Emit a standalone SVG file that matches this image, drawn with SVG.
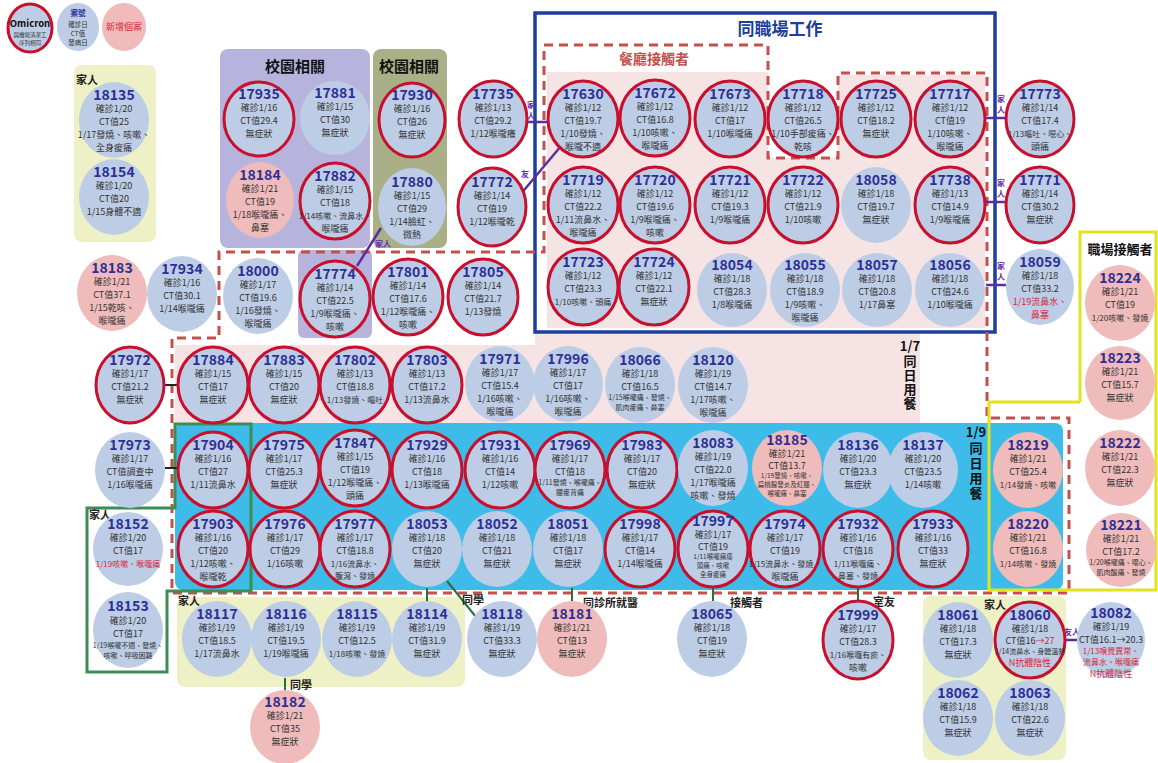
<svg xmlns="http://www.w3.org/2000/svg" width="1158" height="763" viewBox="0 0 1158 763">
<style>
text{font-family:"Noto Sans CJK TC","Noto Sans",sans-serif}
.b{fill:#bdcde6}
.p{fill:#f0bbbb}
.rg{fill:#bdcde6;stroke:#c8102e;stroke-width:3}
.n{font-size:14px;font-weight:700;fill:#2e2f96;text-anchor:middle}
.t{font-size:9px;fill:#333;text-anchor:middle}
.m{font-size:8px}
.s{font-size:7px}
.xs{font-size:6.5px}
.rd{fill:#d9263a}
.ttl{font-weight:700;fill:#111;text-anchor:middle}
.lb{font-size:11px;font-weight:700;fill:#222}
.pl{font-size:8px;font-weight:700;fill:#6a2fb0;text-anchor:middle}
.pv{font-size:8px;font-weight:700;fill:#6a2fb0;writing-mode:vertical-rl;letter-spacing:3px}
.v{font-size:13px;font-weight:700;fill:#111;text-anchor:middle}
.vv{font-size:13px;font-weight:700;fill:#111;writing-mode:vertical-rl}
.dash{fill:none;stroke:#c4504d;stroke-width:3;stroke-dasharray:9 6}
.cp{stroke:#5b2d9e;stroke-width:2.5}
.cg{stroke:#2f6e3a;stroke-width:2}
.ck{stroke:#222;stroke-width:2}
</style>
<rect width="1158" height="763" fill="#fff"/>
<g id="backgrounds">
<rect x="74" y="65" width="82" height="177" rx="8" fill="#eef0c6"/>
<rect x="220" y="49" width="150" height="199" rx="8" fill="#b6b3dd"/>
<rect x="298" y="250" width="74" height="88" rx="6" fill="#b6b3dd"/>
<rect x="373" y="49" width="74" height="199" rx="8" fill="#a9b087"/>
<path d="M547,72 H768 V158 H838 V75 H985 V328 H547 Z" fill="#f6e4e4"/>
<path d="M175,345 H535 V332 H920 V423 H175 Z" fill="#f6e4e4"/>
<rect x="175" y="423" width="888" height="167" rx="8" fill="#3dbce9"/>
<rect x="177" y="597" width="288" height="90" rx="8" fill="#eef0c6"/>
<rect x="923" y="596" width="143" height="164" rx="8" fill="#eef0c6"/>
</g>
<g id="frames">
<rect x="535" y="13" width="460" height="319" fill="none" stroke="#1d3f99" stroke-width="3.5"/>
<path class="dash" d="M544,45 H768 V158 H838 V73 H987 V418 H1069 V593 H172 V338 H219 V252 H544 Z"/>
<path d="M1080,402 V232 H1156 V590 H989 V402 H1080" fill="none" stroke="#e2e21e" stroke-width="3"/>
<path d="M175,424 H251 V591 H167 V672 H87 V508 H175 Z" fill="none" stroke="#3d8b56" stroke-width="3"/>
</g>
<g id="titles">
<text class="ttl" x="295" y="72" font-size="15">校園相關</text>
<text class="ttl" x="409" y="72" font-size="15">校園相關</text>
<text class="ttl" x="780" y="35" font-size="17" style="fill:#1d3f99">同職場工作</text>
<text class="ttl" x="654" y="64" font-size="14" style="fill:#c4504d">餐廳接觸者</text>
<text class="ttl" x="1120" y="254" font-size="13">職場接觸者</text>
<text class="lb" x="76" y="84" font-size="9">家人</text>
<text class="lb" x="89" y="519" font-size="8.5">家人</text>
<text class="lb" x="178" y="605" font-size="8">家人</text>
<text class="lb" x="995" y="609" font-size="9" text-anchor="middle">家人</text>
<text class="v" x="910" y="351">1/7</text>
<text class="vv" x="910" y="355" style="letter-spacing:1px">同日用餐</text>
<text class="v" x="976" y="437">1/9</text>
<text class="vv" x="976" y="442" style="letter-spacing:2px">同日用餐</text>
</g>
<g id="legend">
<g id="lg-omicron" transform="translate(30,28)"><ellipse class="rg" rx="22" ry="24"/><text x="0" y="-1" font-size="9.5" font-weight="700" text-anchor="middle" fill="#111">Omicron</text><text x="0" y="8.5" font-size="5.5" text-anchor="middle" fill="#333">與機場清潔工</text><text x="0" y="16.5" font-size="5.5" text-anchor="middle" fill="#333">序列相同</text></g>
<g id="lg-case" transform="translate(78,27)"><ellipse class="b" rx="21" ry="24"/><text class="t" y="-11" style="font-size:7.5px;font-weight:700;fill:#2e2f96">案號</text><text class="t" y="-0.5" style="font-size:6.5px">確診日</text><text class="t" y="8.5" style="font-size:6.5px">CT值</text><text class="t" y="18" style="font-size:6.5px">發病日</text></g>
<g id="lg-new" transform="translate(124,27)"><ellipse class="p" rx="22" ry="24"/><text class="t rd" y="3">新增個案</text></g>
</g>
<g id="connectors">
<line class="cp" x1="381" y1="228" x2="357" y2="266"/>
<text class="pl" x="383" y="247">家人</text>
<line class="cp" x1="520" y1="195" x2="561" y2="146"/>
<text class="pl" x="525" y="177" font-size="11">友</text>
<line class="cp" x1="527" y1="122" x2="548" y2="122"/>
<text class="pv" x="531" y="101">家人</text>
<line class="cp" x1="986" y1="118" x2="1006" y2="118"/>
<text class="pv" x="1001" y="95">家人</text>
<line class="cp" x1="986" y1="202" x2="1006" y2="202"/>
<text class="pv" x="1001" y="179">家人</text>
<line class="cp" x1="986" y1="285" x2="1006" y2="285"/>
<text class="pv" x="1001" y="262">家人</text>
<line class="cp" x1="1066" y1="640" x2="1079" y2="640"/>
<text class="pl" x="1072" y="635" font-size="6">友人</text>
<line class="ck" x1="165" y1="385" x2="178" y2="385"/>
<line class="ck" x1="165" y1="468" x2="178" y2="468"/>
<line class="cg" x1="427" y1="588" x2="427" y2="603"/>
<line class="cg" x1="447" y1="581" x2="476" y2="617"/>
<text class="lb" x="462" y="604" font-size="9">同學</text>
<line class="cg" x1="572" y1="588" x2="572" y2="602"/>
<text class="lb" x="583" y="607" font-size="10">同診所就醫</text>
<line class="cg" x1="713" y1="588" x2="713" y2="601"/>
<text class="lb" x="730" y="607" font-size="10">接觸者</text>
<line class="cg" x1="858" y1="588" x2="858" y2="601"/>
<text class="lb" x="873" y="606" font-size="10">室友</text>
<line class="cg" x1="285" y1="678" x2="285" y2="691"/>
<text class="lb" x="290" y="689" font-size="10">同學</text>
</g>
<g id="nodes">
<g id="n18135" transform="translate(114,120)"><ellipse class="b" rx="35" ry="38"/><text class="n" y="-20">18135</text><text class="t" y="-8">確診1/20</text><text class="t" y="5">CT值25</text><text class="t" y="18">1/17發燒、咳嗽、</text><text class="t" y="31">全身痠痛</text></g>
<g id="n18154" transform="translate(114,197)"><ellipse class="b" rx="35" ry="38"/><text class="n" y="-20">18154</text><text class="t" y="-8">確診1/20</text><text class="t" y="5">CT值20</text><text class="t" y="18">1/15身體不適</text></g>
<g id="n17935" transform="translate(259,119)"><ellipse class="rg" rx="35" ry="37"/><text class="n" y="-20">17935</text><text class="t" y="-8">確診1/16</text><text class="t" y="5">CT值29.4</text><text class="t" y="18">無症狀</text></g>
<g id="n17881" transform="translate(335,118)"><ellipse class="b" rx="35" ry="37"/><text class="n" y="-20">17881</text><text class="t" y="-8">確診1/15</text><text class="t" y="5">CT值30</text><text class="t" y="18">無症狀</text></g>
<g id="n18184" transform="translate(260,200)"><ellipse class="p" rx="34" ry="38"/><text class="n" y="-20">18184</text><text class="t" y="-8">確診1/21</text><text class="t" y="5">CT值19</text><text class="t" y="18">1/18喉嚨痛、</text><text class="t" y="31">鼻塞</text></g>
<g id="n17882" transform="translate(335,201)"><ellipse class="rg" rx="35" ry="38"/><text class="n" y="-20">17882</text><text class="t" y="-8">確診1/15</text><text class="t" y="5">CT值18</text><text class="t m" y="18">1/14咳嗽、流鼻水、</text><text class="t" y="31">喉嚨痛</text></g>
<g id="n17930" transform="translate(412,120)"><ellipse class="rg" rx="33" ry="37"/><text class="n" y="-20">17930</text><text class="t" y="-8">確診1/16</text><text class="t" y="5">CT值26</text><text class="t" y="18">無症狀</text></g>
<g id="n17880" transform="translate(412,207)"><ellipse class="b" rx="34" ry="39"/><text class="n" y="-20">17880</text><text class="t" y="-8">確診1/15</text><text class="t" y="5">CT值29</text><text class="t" y="18">1/14臉紅、</text><text class="t" y="31">微熱</text></g>
<g id="n17735" transform="translate(493,119)"><ellipse class="rg" rx="34" ry="38"/><text class="n" y="-20">17735</text><text class="t" y="-8">確診1/13</text><text class="t" y="5">CT值29.2</text><text class="t" y="18">1/12喉嚨癢</text></g>
<g id="n17772" transform="translate(492,207)"><ellipse class="rg" rx="34" ry="39"/><text class="n" y="-20">17772</text><text class="t" y="-8">確診1/14</text><text class="t" y="5">CT值19</text><text class="t" y="18">1/12喉嚨乾</text></g>
<g id="n17630" transform="translate(583,119)"><ellipse class="rg" rx="35" ry="38"/><text class="n" y="-20">17630</text><text class="t" y="-8">確診1/12</text><text class="t" y="5">CT值19.7</text><text class="t" y="18">1/10發燒、</text><text class="t" y="31">喉嚨不適</text></g>
<g id="n17672" transform="translate(655,118)"><ellipse class="rg" rx="35" ry="38"/><text class="n" y="-20">17672</text><text class="t" y="-8">確診1/12</text><text class="t" y="5">CT值16.8</text><text class="t" y="18">1/10咳嗽、</text><text class="t" y="31">喉嚨痛</text></g>
<g id="n17673" transform="translate(730,119)"><ellipse class="rg" rx="35" ry="38"/><text class="n" y="-20">17673</text><text class="t" y="-8">確診1/12</text><text class="t" y="5">CT值17</text><text class="t" y="18">1/10喉嚨痛</text></g>
<g id="n17718" transform="translate(803,119)"><ellipse class="rg" rx="35" ry="38"/><text class="n" y="-20">17718</text><text class="t" y="-8">確診1/12</text><text class="t" y="5">CT值26.5</text><text class="t" y="18">1/10手部痠痛、</text><text class="t" y="31">乾咳</text></g>
<g id="n17725" transform="translate(876,119)"><ellipse class="rg" rx="35" ry="38"/><text class="n" y="-20">17725</text><text class="t" y="-8">確診1/12</text><text class="t" y="5">CT值18.2</text><text class="t" y="18">無症狀</text></g>
<g id="n17717" transform="translate(950,119)"><ellipse class="rg" rx="35" ry="38"/><text class="n" y="-20">17717</text><text class="t" y="-8">確診1/12</text><text class="t" y="5">CT值19</text><text class="t" y="18">1/10咳嗽、</text><text class="t" y="31">喉嚨痛</text></g>
<g id="n17773" transform="translate(1040,119)"><ellipse class="rg" rx="34" ry="38"/><text class="n" y="-20">17773</text><text class="t" y="-8">確診1/14</text><text class="t" y="5">CT值17.4</text><text class="t m" y="18">1/13嘔吐、噁心、</text><text class="t" y="31">頭痛</text></g>
<g id="n17719" transform="translate(583,205)"><ellipse class="rg" rx="35" ry="38"/><text class="n" y="-20">17719</text><text class="t" y="-8">確診1/12</text><text class="t" y="5">CT值22.2</text><text class="t" y="18">1/11流鼻水、</text><text class="t" y="31">喉嚨痛</text></g>
<g id="n17720" transform="translate(655,205)"><ellipse class="rg" rx="35" ry="38"/><text class="n" y="-20">17720</text><text class="t" y="-8">確診1/12</text><text class="t" y="5">CT值19.6</text><text class="t" y="18">1/9喉嚨痛、</text><text class="t" y="31">咳嗽</text></g>
<g id="n17721" transform="translate(730,205)"><ellipse class="rg" rx="35" ry="38"/><text class="n" y="-20">17721</text><text class="t" y="-8">確診1/12</text><text class="t" y="5">CT值19.3</text><text class="t" y="18">1/9喉嚨痛</text></g>
<g id="n17722" transform="translate(803,205)"><ellipse class="rg" rx="35" ry="38"/><text class="n" y="-20">17722</text><text class="t" y="-8">確診1/12</text><text class="t" y="5">CT值21.9</text><text class="t" y="18">1/10咳嗽</text></g>
<g id="n18058" transform="translate(876,205)"><ellipse class="b" rx="35" ry="38"/><text class="n" y="-20">18058</text><text class="t" y="-8">確診1/18</text><text class="t" y="5">CT值19.7</text><text class="t" y="18">無症狀</text></g>
<g id="n17738" transform="translate(950,205)"><ellipse class="rg" rx="35" ry="38"/><text class="n" y="-20">17738</text><text class="t" y="-8">確診1/13</text><text class="t" y="5">CT值14.9</text><text class="t" y="18">1/9喉嚨痛</text></g>
<g id="n17771" transform="translate(1040,205)"><ellipse class="rg" rx="34" ry="38"/><text class="n" y="-20">17771</text><text class="t" y="-8">確診1/14</text><text class="t" y="5">CT值30.2</text><text class="t" y="18">無症狀</text></g>
<g id="n18183" transform="translate(112,293)"><ellipse class="p" rx="35" ry="38"/><text class="n" y="-20">18183</text><text class="t" y="-8">確診1/21</text><text class="t" y="5">CT值37.1</text><text class="t" y="18">1/15乾咳、</text><text class="t" y="31">喉嚨痛</text></g>
<g id="n17934" transform="translate(182,294)"><ellipse class="b" rx="35" ry="38"/><text class="n" y="-20">17934</text><text class="t" y="-8">確診1/16</text><text class="t" y="5">CT值30.1</text><text class="t" y="18">1/14喉嚨痛</text></g>
<g id="n18000" transform="translate(258,296)"><ellipse class="b" rx="35" ry="38"/><text class="n" y="-20">18000</text><text class="t" y="-8">確診1/17</text><text class="t" y="5">CT值19.6</text><text class="t" y="18">1/16發燒、</text><text class="t" y="31">喉嚨痛</text></g>
<g id="n17774" transform="translate(335,299)"><ellipse class="rg" rx="35" ry="38"/><text class="n" y="-20">17774</text><text class="t" y="-8">確診1/14</text><text class="t" y="5">CT值22.5</text><text class="t" y="18">1/9喉嚨痛、</text><text class="t" y="31">咳嗽</text></g>
<g id="n17801" transform="translate(408,297)"><ellipse class="rg" rx="35" ry="38"/><text class="n" y="-20">17801</text><text class="t" y="-8">確診1/14</text><text class="t" y="5">CT值17.6</text><text class="t" y="18">1/12喉嚨痛、</text><text class="t" y="31">咳嗽</text></g>
<g id="n17805" transform="translate(483,297)"><ellipse class="rg" rx="35" ry="38"/><text class="n" y="-20">17805</text><text class="t" y="-8">確診1/14</text><text class="t" y="5">CT值21.7</text><text class="t" y="18">1/13發燒</text></g>
<g id="n17723" transform="translate(583,287)"><ellipse class="rg" rx="35" ry="38"/><text class="n" y="-20">17723</text><text class="t" y="-8">確診1/12</text><text class="t" y="5">CT值23.3</text><text class="t m" y="18">1/10咳嗽、頭痛</text></g>
<g id="n17724" transform="translate(654,287)"><ellipse class="rg" rx="35" ry="38"/><text class="n" y="-20">17724</text><text class="t" y="-8">確診1/12</text><text class="t" y="5">CT值22.1</text><text class="t" y="18">無症狀</text></g>
<g id="n18054" transform="translate(732,290)"><ellipse class="b" rx="35" ry="37"/><text class="n" y="-20">18054</text><text class="t" y="-8">確診1/18</text><text class="t" y="5">CT值28.3</text><text class="t" y="18">1/8喉嚨痛</text></g>
<g id="n18055" transform="translate(805,290)"><ellipse class="b" rx="35" ry="37"/><text class="n" y="-20">18055</text><text class="t" y="-8">確診1/18</text><text class="t" y="5">CT值18.9</text><text class="t" y="18">1/9咳嗽、</text><text class="t" y="31">喉嚨痛</text></g>
<g id="n18057" transform="translate(877,290)"><ellipse class="b" rx="35" ry="37"/><text class="n" y="-20">18057</text><text class="t" y="-8">確診1/18</text><text class="t" y="5">CT值20.8</text><text class="t" y="18">1/17鼻塞</text></g>
<g id="n18056" transform="translate(950,290)"><ellipse class="b" rx="35" ry="37"/><text class="n" y="-20">18056</text><text class="t" y="-8">確診1/18</text><text class="t" y="5">CT值24.6</text><text class="t" y="18">1/10喉嚨痛</text></g>
<g id="n18059" transform="translate(1040,287)"><ellipse class="b" rx="34" ry="38"/><text class="n" y="-20">18059</text><text class="t" y="-8">確診1/18</text><text class="t" y="5">CT值33.2</text><text class="t rd" y="18">1/19流鼻水、</text><text class="t rd" y="31">鼻塞</text></g>
<g id="n18224" transform="translate(1120,303)"><ellipse class="p" rx="35" ry="38"/><text class="n" y="-20">18224</text><text class="t" y="-8">確診1/21</text><text class="t" y="5">CT值19</text><text class="t m" y="18">1/20咳嗽、發燒</text></g>
<g id="n17972" transform="translate(130,385)"><ellipse class="rg" rx="34" ry="38"/><text class="n" y="-20">17972</text><text class="t" y="-8">確診1/17</text><text class="t" y="5">CT值21.2</text><text class="t" y="18">無症狀</text></g>
<g id="n17884" transform="translate(213,385)"><ellipse class="rg" rx="35" ry="38"/><text class="n" y="-20">17884</text><text class="t" y="-8">確診1/15</text><text class="t" y="5">CT值17</text><text class="t" y="18">無症狀</text></g>
<g id="n17883" transform="translate(284,385)"><ellipse class="rg" rx="35" ry="38"/><text class="n" y="-20">17883</text><text class="t" y="-8">確診1/15</text><text class="t" y="5">CT值20</text><text class="t" y="18">無症狀</text></g>
<g id="n17802" transform="translate(355,385)"><ellipse class="rg" rx="35" ry="38"/><text class="n" y="-20">17802</text><text class="t" y="-8">確診1/13</text><text class="t" y="5">CT值18.8</text><text class="t m" y="18">1/13發燒、嘔吐</text></g>
<g id="n17803" transform="translate(427,385)"><ellipse class="rg" rx="35" ry="38"/><text class="n" y="-20">17803</text><text class="t" y="-8">確診1/13</text><text class="t" y="5">CT值17.2</text><text class="t" y="18">1/13流鼻水</text></g>
<g id="n17971" transform="translate(500,384)"><ellipse class="b" rx="35" ry="38"/><text class="n" y="-20">17971</text><text class="t" y="-8">確診1/17</text><text class="t" y="5">CT值15.4</text><text class="t" y="18">1/16咳嗽、</text><text class="t" y="31">喉嚨痛</text></g>
<g id="n17996" transform="translate(568,384)"><ellipse class="b" rx="35" ry="38"/><text class="n" y="-20">17996</text><text class="t" y="-8">確診1/17</text><text class="t" y="5">CT值17</text><text class="t" y="18">1/16咳嗽、</text><text class="t" y="31">喉嚨痛</text></g>
<g id="n18066" transform="translate(640,385)"><ellipse class="b" rx="35" ry="38"/><text class="n" y="-20">18066</text><text class="t" y="-8">確診1/18</text><text class="t" y="5">CT值16.5</text><text class="t s" y="15">1/15喉嚨痛、發燒、</text><text class="t s" y="25">肌肉痠痛、鼻塞</text></g>
<g id="n18120" transform="translate(713,385)"><ellipse class="b" rx="35" ry="38"/><text class="n" y="-20">18120</text><text class="t" y="-8">確診1/19</text><text class="t" y="5">CT值14.7</text><text class="t" y="18">1/17咳嗽、</text><text class="t" y="31">喉嚨痛</text></g>
<g id="n18223" transform="translate(1120,383)"><ellipse class="p" rx="35" ry="37"/><text class="n" y="-20">18223</text><text class="t" y="-8">確診1/21</text><text class="t" y="5">CT值15.7</text><text class="t" y="18">無症狀</text></g>
<g id="n17973" transform="translate(130,470)"><ellipse class="b" rx="35" ry="38"/><text class="n" y="-20">17973</text><text class="t" y="-8">確診1/17</text><text class="t" y="5">CT值調查中</text><text class="t" y="18">1/16喉嚨痛</text></g>
<g id="n17904" transform="translate(213,470)"><ellipse class="rg" rx="35" ry="38"/><text class="n" y="-20">17904</text><text class="t" y="-8">確診1/16</text><text class="t" y="5">CT值27</text><text class="t" y="18">1/11流鼻水</text></g>
<g id="n17975" transform="translate(284,470)"><ellipse class="rg" rx="35" ry="38"/><text class="n" y="-20">17975</text><text class="t" y="-8">確診1/17</text><text class="t" y="5">CT值25.3</text><text class="t" y="18">無症狀</text></g>
<g id="n17847" transform="translate(355,468)"><ellipse class="rg" rx="35" ry="38"/><text class="n" y="-20">17847</text><text class="t" y="-8">確診1/15</text><text class="t" y="5">CT值19</text><text class="t" y="18">1/12喉嚨痛、</text><text class="t" y="31">頭痛</text></g>
<g id="n17929" transform="translate(427,470)"><ellipse class="rg" rx="35" ry="38"/><text class="n" y="-20">17929</text><text class="t" y="-8">確診1/16</text><text class="t" y="5">CT值18</text><text class="t" y="18">1/13喉嚨痛</text></g>
<g id="n17931" transform="translate(500,470)"><ellipse class="rg" rx="35" ry="38"/><text class="n" y="-20">17931</text><text class="t" y="-8">確診1/16</text><text class="t" y="5">CT值14</text><text class="t" y="18">1/12咳嗽</text></g>
<g id="n17969" transform="translate(570,470)"><ellipse class="rg" rx="35" ry="38"/><text class="n" y="-20">17969</text><text class="t" y="-8">確診1/17</text><text class="t" y="5">CT值18</text><text class="t s" y="15">1/11發燒、喉嚨痛、</text><text class="t s" y="25">腰痠背痛</text></g>
<g id="n17983" transform="translate(642,470)"><ellipse class="rg" rx="35" ry="38"/><text class="n" y="-20">17983</text><text class="t" y="-8">確診1/17</text><text class="t" y="5">CT值20</text><text class="t" y="18">無症狀</text></g>
<g id="n18083" transform="translate(713,468)"><ellipse class="b" rx="35" ry="38"/><text class="n" y="-20">18083</text><text class="t" y="-8">確診1/19</text><text class="t" y="5">CT值22.0</text><text class="t" y="18">1/17喉嚨痛</text><text class="t" y="31">咳嗽、發燒</text></g>
<g id="n18185" transform="translate(787,468)"><ellipse class="p" rx="35" ry="38"/><text class="n" y="-23">18185</text><text class="t" y="-11">確診1/21</text><text class="t" y="1">CT值13.7</text><text class="t xs" y="10">1/19發燒、咳嗽、</text><text class="t xs" y="19">扁桃腺發炎及紅腫、</text><text class="t xs" y="28">喉嚨痛、鼻塞</text></g>
<g id="n18136" transform="translate(858,470)"><ellipse class="b" rx="35" ry="38"/><text class="n" y="-20">18136</text><text class="t" y="-8">確診1/20</text><text class="t" y="5">CT值23.3</text><text class="t" y="18">無症狀</text></g>
<g id="n18137" transform="translate(923,470)"><ellipse class="b" rx="35" ry="38"/><text class="n" y="-20">18137</text><text class="t" y="-8">確診1/20</text><text class="t" y="5">CT值23.5</text><text class="t" y="18">1/14咳嗽</text></g>
<g id="n18219" transform="translate(1028,470)"><ellipse class="p" rx="35" ry="38"/><text class="n" y="-20">18219</text><text class="t" y="-8">確診1/21</text><text class="t" y="5">CT值25.4</text><text class="t m" y="18">1/14發燒、咳嗽</text></g>
<g id="n18222" transform="translate(1120,468)"><ellipse class="p" rx="35" ry="38"/><text class="n" y="-20">18222</text><text class="t" y="-8">確診1/21</text><text class="t" y="5">CT值22.3</text><text class="t" y="18">無症狀</text></g>
<g id="n18152" transform="translate(128,549)"><ellipse class="b" rx="35" ry="37"/><text class="n" y="-20">18152</text><text class="t" y="-8">確診1/20</text><text class="t" y="5">CT值17</text><text class="t m rd" y="18">1/19咳嗽、喉嚨痛</text></g>
<g id="n17903" transform="translate(213,549)"><ellipse class="rg" rx="35" ry="38"/><text class="n" y="-20">17903</text><text class="t" y="-8">確診1/16</text><text class="t" y="5">CT值20</text><text class="t" y="18">1/12咳嗽、</text><text class="t" y="31">喉嚨乾</text></g>
<g id="n17976" transform="translate(285,549)"><ellipse class="rg" rx="35" ry="38"/><text class="n" y="-20">17976</text><text class="t" y="-8">確診1/17</text><text class="t" y="5">CT值29</text><text class="t" y="18">1/16咳嗽</text></g>
<g id="n17977" transform="translate(355,549)"><ellipse class="rg" rx="35" ry="38"/><text class="n" y="-20">17977</text><text class="t" y="-8">確診1/17</text><text class="t" y="5">CT值18.8</text><text class="t m" y="18">1/16流鼻水、</text><text class="t m" y="30">腹瀉、發燒</text></g>
<g id="n18053" transform="translate(427,549)"><ellipse class="b" rx="35" ry="38"/><text class="n" y="-20">18053</text><text class="t" y="-8">確診1/18</text><text class="t" y="5">CT值20</text><text class="t" y="18">無症狀</text></g>
<g id="n18052" transform="translate(497,549)"><ellipse class="b" rx="35" ry="38"/><text class="n" y="-20">18052</text><text class="t" y="-8">確診1/18</text><text class="t" y="5">CT值21</text><text class="t" y="18">無症狀</text></g>
<g id="n18051" transform="translate(568,549)"><ellipse class="b" rx="35" ry="38"/><text class="n" y="-20">18051</text><text class="t" y="-8">確診1/18</text><text class="t" y="5">CT值17</text><text class="t" y="18">無症狀</text></g>
<g id="n17998" transform="translate(640,549)"><ellipse class="rg" rx="35" ry="38"/><text class="n" y="-20">17998</text><text class="t" y="-8">確診1/17</text><text class="t" y="5">CT值14</text><text class="t" y="18">1/14喉嚨痛</text></g>
<g id="n17997" transform="translate(713,549)"><ellipse class="rg" rx="35" ry="38"/><text class="n" y="-23">17997</text><text class="t" y="-11">確診1/17</text><text class="t" y="1">CT值19</text><text class="t xs" y="10">1/11喉嚨痛癢</text><text class="t xs" y="19">頭痛、咳嗽</text><text class="t xs" y="28">全身痠痛</text></g>
<g id="n17974" transform="translate(785,549)"><ellipse class="rg" rx="35" ry="38"/><text class="n" y="-20">17974</text><text class="t" y="-8">確診1/17</text><text class="t" y="5">CT值19</text><text class="t m" y="18">1/15流鼻水、發燒、</text><text class="t" y="31">喉嚨痛</text></g>
<g id="n17932" transform="translate(858,549)"><ellipse class="rg" rx="35" ry="38"/><text class="n" y="-20">17932</text><text class="t" y="-8">確診1/16</text><text class="t" y="5">CT值18</text><text class="t m" y="18">1/11喉嚨痛、</text><text class="t m" y="30">鼻塞、發燒</text></g>
<g id="n17933" transform="translate(933,549)"><ellipse class="rg" rx="35" ry="38"/><text class="n" y="-20">17933</text><text class="t" y="-8">確診1/16</text><text class="t" y="5">CT值33</text><text class="t" y="18">無症狀</text></g>
<g id="n18220" transform="translate(1028,549)"><ellipse class="p" rx="35" ry="38"/><text class="n" y="-20">18220</text><text class="t" y="-8">確診1/21</text><text class="t" y="5">CT值16.8</text><text class="t m" y="18">1/14咳嗽、發燒</text></g>
<g id="n18221" transform="translate(1121,550)"><ellipse class="p" rx="35" ry="37"/><text class="n" y="-20">18221</text><text class="t" y="-8">確診1/21</text><text class="t" y="5">CT值17.2</text><text class="t s" y="15">1/20喉嚨痛、噁心、</text><text class="t s" y="25">肌肉酸痛、發燒</text></g>
<g id="n18153" transform="translate(128,630)"><ellipse class="b" rx="35" ry="38"/><text class="n" y="-19">18153</text><text class="t" y="-6">確診1/20</text><text class="t" y="7">CT值17</text><text class="t s" y="18">1/19喉嚨不適、發燒、</text><text class="t s" y="28">咳嗽、呼吸困難</text></g>
<g id="n18117" transform="translate(217,639)"><ellipse class="b" rx="35" ry="38"/><text class="n" y="-20">18117</text><text class="t" y="-8">確診1/19</text><text class="t" y="5">CT值18.5</text><text class="t" y="18">1/17流鼻水</text></g>
<g id="n18116" transform="translate(286,639)"><ellipse class="b" rx="35" ry="38"/><text class="n" y="-20">18116</text><text class="t" y="-8">確診1/19</text><text class="t" y="5">CT值19.5</text><text class="t" y="18">1/19喉嚨痛</text></g>
<g id="n18115" transform="translate(357,639)"><ellipse class="b" rx="35" ry="38"/><text class="n" y="-20">18115</text><text class="t" y="-8">確診1/19</text><text class="t" y="5">CT值12.5</text><text class="t m" y="18">1/18咳嗽、發燒</text></g>
<g id="n18114" transform="translate(427,639)"><ellipse class="b" rx="35" ry="38"/><text class="n" y="-20">18114</text><text class="t" y="-8">確診1/19</text><text class="t" y="5">CT值31.9</text><text class="t" y="18">無症狀</text></g>
<g id="n18118" transform="translate(502,639)"><ellipse class="b" rx="35" ry="38"/><text class="n" y="-20">18118</text><text class="t" y="-8">確診1/19</text><text class="t" y="5">CT值33.3</text><text class="t" y="18">無症狀</text></g>
<g id="n18181" transform="translate(572,639)"><ellipse class="p" rx="35" ry="38"/><text class="n" y="-20">18181</text><text class="t" y="-8">確診1/21</text><text class="t" y="5">CT值13</text><text class="t" y="18">無症狀</text></g>
<g id="n18065" transform="translate(712,639)"><ellipse class="b" rx="35" ry="38"/><text class="n" y="-20">18065</text><text class="t" y="-8">確診1/18</text><text class="t" y="5">CT值19</text><text class="t" y="18">無症狀</text></g>
<g id="n17999" transform="translate(858,640)"><ellipse class="rg" rx="35" ry="39"/><text class="n" y="-20">17999</text><text class="t" y="-8">確診1/17</text><text class="t" y="5">CT值28.3</text><text class="t m" y="18">1/16喉嚨有痰、</text><text class="t" y="31">咳嗽</text></g>
<g id="n18061" transform="translate(958,640)"><ellipse class="b" rx="35" ry="38"/><text class="n" y="-20">18061</text><text class="t" y="-8">確診1/18</text><text class="t" y="5">CT值17.3</text><text class="t" y="18">無症狀</text></g>
<g id="n18060" transform="translate(1030,640)"><ellipse class="rg" rx="35" ry="38"/><text class="n" y="-20">18060</text><text class="t" y="-8">確診1/18</text><text class="t" y="4">CT值16<tspan class="rd">→27</tspan></text><text class="t s" y="14">1/14流鼻水、身體溫熱</text><text class="t rd" y="26">N抗體陰性</text></g>
<g id="n18082" transform="translate(1111,640)"><ellipse class="b" rx="34" ry="38"/><text class="n" y="-22">18082</text><text class="t" y="-10">確診1/19</text><text class="t" y="3">CT值16.1→20.3</text><text class="t m rd" y="14">1/13嗅覺異常、</text><text class="t m rd" y="25">流鼻水、喉嚨痛</text><text class="t rd" y="37">N抗體陰性</text></g>
<g id="n18062" transform="translate(958,718)"><ellipse class="b" rx="35" ry="38"/><text class="n" y="-20">18062</text><text class="t" y="-8">確診1/18</text><text class="t" y="5">CT值15.9</text><text class="t" y="18">無症狀</text></g>
<g id="n18063" transform="translate(1030,718)"><ellipse class="b" rx="35" ry="38"/><text class="n" y="-20">18063</text><text class="t" y="-8">確診1/18</text><text class="t" y="5">CT值22.6</text><text class="t" y="18">無症狀</text></g>
<g id="n18182" transform="translate(285,727)"><ellipse class="p" rx="35" ry="37"/><text class="n" y="-20">18182</text><text class="t" y="-8">確診1/21</text><text class="t" y="5">CT值35</text><text class="t" y="18">無症狀</text></g>
</g>
</svg>
